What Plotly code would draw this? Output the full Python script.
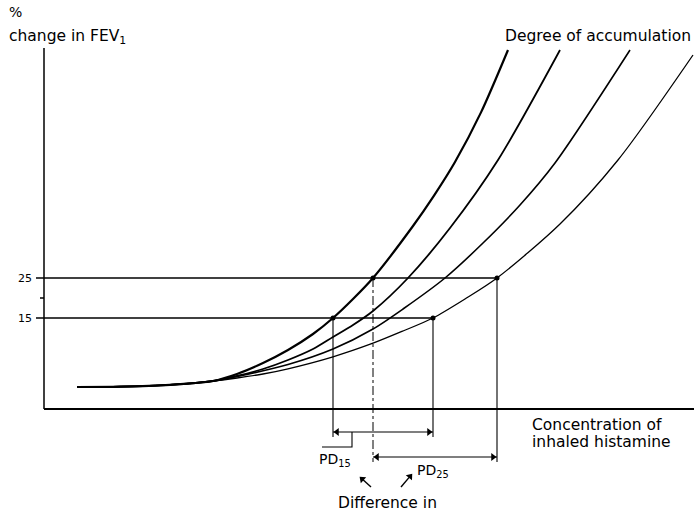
import plotly.graph_objects as go

# Shared flat start of the dose-response curves (concentration, % change in FEV1)
baseline_conc = [33, 76, 126, 169]
baseline_fev = [-2.25, -2.15, -1.7, -0.75]

# Four dose-response curves, steepest (least accumulation) first
curve1_conc = [193, 219, 244, 269, 289, 309, 329, 369, 390, 411, 437, 464]
curve1_fev = [1, 3.75, 7, 11, 15, 19.75, 25, 38, 45.6, 54, 66.4, 82]
curve2_conc = [193, 219, 244, 269, 289, 309, 329, 364, 406, 454, 516]
curve2_fev = [0.5, 2.25, 4.5, 7.25, 10.25, 13.25, 16.75, 25, 37.5, 54.5, 82]
curve3_conc = [193, 244, 289, 329, 359, 401, 439, 476, 511, 586]
curve3_fev = [0.375, 3.375, 7.25, 12.25, 17.25, 25, 33.75, 43.25, 53.75, 82]
curve4_conc = [193, 219, 244, 289, 329, 359, 389, 421, 453, 516, 574, 649]
curve4_fev = [0, 1, 2.3, 5.3, 8.7, 11.75, 15, 19.75, 25, 38.5, 54.5, 80.75]

# Provocative-dose levels and the concentrations where the outer curves reach them
levels = [15, 25]
pd15_conc = [289, 389]
pd25_conc = [329, 453]

tick_values = [15, 25]
tick_labels = ["15", "25"]
minor_tick = 20

FONT = "DejaVu Sans"
INK = "black"

fig = go.Figure()

curves = [
    (curve1_conc, curve1_fev, 2.2),
    (curve2_conc, curve2_fev, 1.8),
    (curve3_conc, curve3_fev, 1.6),
    (curve4_conc, curve4_fev, 1.3),
]
for cx, cy, w in curves:
    fig.add_trace(go.Scatter(
        x=baseline_conc + cx, y=baseline_fev + cy, mode="lines",
        line=dict(color=INK, width=w, shape="spline", smoothing=0.8),
        hoverinfo="skip", showlegend=False))

# Axes
axis_bottom = -7.75
axis_top = 82.5
x_end = 650
shapes = [
    dict(type="line", x0=0, x1=0, y0=axis_bottom, y1=axis_top, line=dict(color=INK, width=1.5)),
    dict(type="line", x0=0, x1=x_end, y0=axis_bottom, y1=axis_bottom, line=dict(color=INK, width=1.8)),
    dict(type="line", x0=-4, x1=0, y0=minor_tick, y1=minor_tick, line=dict(color=INK, width=1.5)),
]

# Horizontal level lines out to the least steep curve
for lvl, ends in zip(levels, [pd15_conc, pd25_conc]):
    shapes.append(dict(type="line", x0=-8, x1=ends[1], y0=lvl, y1=lvl,
                       line=dict(color=INK, width=1.5)))

# Drop lines from the intersections
pd15_arrow_y = -13.5
pd25_arrow_y = -19.75
shapes += [
    dict(type="line", x0=pd15_conc[0], x1=pd15_conc[0], y0=levels[0], y1=-14.75, line=dict(color=INK, width=1.1)),
    dict(type="line", x0=pd15_conc[1], x1=pd15_conc[1], y0=levels[0], y1=-14.75, line=dict(color=INK, width=1.1)),
    dict(type="line", x0=pd25_conc[0], x1=pd25_conc[0], y0=levels[1], y1=-21, line=dict(color=INK, width=1, dash="dashdot")),
    dict(type="line", x0=pd25_conc[1], x1=pd25_conc[1], y0=levels[1], y1=-21, line=dict(color=INK, width=1.1)),
    # leader from the PD15 label to its span
    dict(type="path", path="M 278,-17.25 L 308,-17.25 L 308,-13.5", line=dict(color=INK, width=1.1)),
]

# Double-headed spans for PD15 and PD25
head = 4  # half-length of a triangular arrowhead, in concentration units
for (lo, hi), yy in [(pd15_conc, pd15_arrow_y), (pd25_conc, pd25_arrow_y)]:
    shapes.append(dict(type="line", x0=lo, x1=hi, y0=yy, y1=yy, line=dict(color=INK, width=1.2)))
    fig.add_trace(go.Scatter(
        x=[lo + head, hi - head], y=[yy, yy], mode="markers",
        marker=dict(symbol=["triangle-left", "triangle-right"], size=7, color=INK, line=dict(width=0)),
        hoverinfo="skip", showlegend=False))

# Pointers from "Difference in" up to the labels
pointers = [((327, -27.25), (318.2, -25.25), -48), ((357, -27.25), (366, -24.6), 40)]
for tail, tip, ang in pointers:
    shapes.append(dict(type="line", x0=tail[0], y0=tail[1], x1=tip[0], y1=tip[1],
                       line=dict(color=INK, width=1.4)))
    fig.add_trace(go.Scatter(
        x=[tip[0]], y=[tip[1]], mode="markers",
        marker=dict(symbol="triangle-up", angle=ang, size=7, color=INK, line=dict(width=0)),
        hoverinfo="skip", showlegend=False))

fig.add_trace(go.Scatter(
    x=[pd15_conc[0], pd15_conc[1], pd25_conc[0], pd25_conc[1]],
    y=[levels[0], levels[0], levels[1], levels[1]],
    mode="markers", marker=dict(color=INK, size=5),
    hoverinfo="skip", showlegend=False))

annotations = []


def label(x, y, text, size=15, xanchor="left"):
    annotations.append(dict(x=x, y=y, xref="x", yref="y", text=text, showarrow=False,
                            xanchor=xanchor, yanchor="middle",
                            font=dict(family=FONT, size=size, color=INK)))


for v, t in zip(tick_values, tick_labels):
    label(-10, v, t, size=11, xanchor="right")

label(-37, 91.5, "%", size=14)
label(-37, 85.25, "change in FEV<sub>1</sub>", size=15.5)
label(459, 85.5, "Degree of accumulation", size=15.5)
label(486, -11.75, "Concentration of", size=15.5)
label(486, -16, "inhaled histamine", size=15.5)
label(273, -20.5, "PD<sub>15</sub>", size=14)
label(371, -23.25, "PD<sub>25</sub>", size=14)
label(343, -31.25, "Difference in", size=15.5, xanchor="center")

fig.update_layout(
    width=694, height=513, autosize=False,
    margin=dict(l=0, r=0, t=0, b=0),
    paper_bgcolor="white", plot_bgcolor="white",
    xaxis=dict(range=[-44, 650], visible=False, fixedrange=True),
    yaxis=dict(range=[-33.75, 94.5], visible=False, fixedrange=True),
    shapes=shapes, annotations=annotations,
    font=dict(family=FONT, color=INK),
    showlegend=False,
)

fig.write_html("out.html")
